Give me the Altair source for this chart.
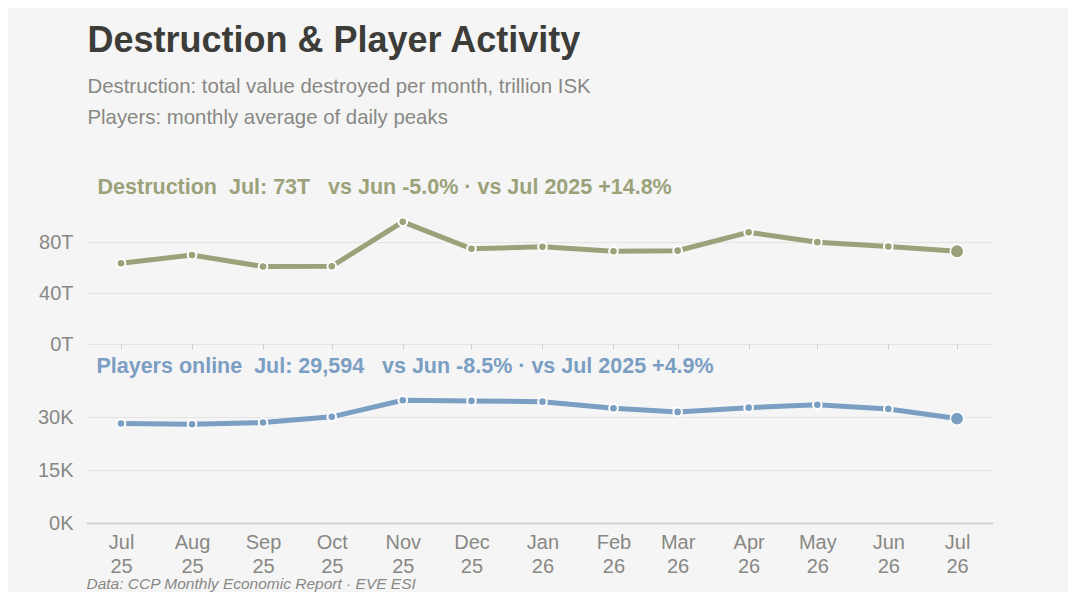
import altair as alt
import pandas as pd

months = ["2025-07-01", "2025-08-01", "2025-09-01", "2025-10-01", "2025-11-01", "2025-12-01",
          "2026-01-01", "2026-02-01", "2026-03-01", "2026-04-01", "2026-05-01", "2026-06-01", "2026-07-01"]
destruction = [63.6, 70.0, 61.0, 61.2, 96.2, 75.0, 76.6, 73.0, 73.5, 88.0, 80.2, 76.8, 73.0]
players = [28212, 28000, 28500, 30100, 34800, 34600, 34400, 32500, 31500, 32700, 33500, 32343, 29594]

title_text = "Destruction & Player Activity"
subtitle_lines = ["Destruction: total value destroyed per month, trillion ISK",
                  "Players: monthly average of daily peaks"]
destr_title = "Destruction\u00a0\u00a0Jul: 73T\u00a0\u00a0\u00a0vs Jun -5.0% \u00b7 vs Jul 2025 +14.8%"
players_title = "Players online\u00a0\u00a0Jul: 29,594\u00a0\u00a0\u00a0vs Jun -8.5% \u00b7 vs Jul 2025 +4.9%"
footer = "Data: CCP Monthly Economic Report \u00b7 EVE ESI"

GREEN = "#9ba27a"
BLUE = "#7b9ec3"
GRAY = "#888884"
FONT = "Liberation Sans"

t0 = pd.Timestamp("2025-07-01", tz="UTC") - pd.Timedelta(days=15.3)
t1 = pd.Timestamp("2026-07-01", tz="UTC") + pd.Timedelta(days=15.7)
xdomain = [int(t0.timestamp() * 1000), int(t1.timestamp() * 1000)]

df1 = pd.DataFrame({"date": months, "value": destruction})
df2 = pd.DataFrame({"date": months, "value": players})
df1["last"] = df1.index == len(df1) - 1
df2["last"] = df2.index == len(df2) - 1


def panel(df, color, ydomain, yvalues, ylabel_expr, title, bottom, toff):
    if bottom:
        xaxis = alt.Axis(
            tickCount={"interval": "month", "step": 1},
            labelExpr="[utcFormat(datum.value, '%b'), utcFormat(datum.value, '%y')]",
            labelFont=FONT, labelFontSize=20, labelColor=GRAY, labelLineHeight=24,
            labelPadding=9, ticks=False, grid=False, domain=True,
            domainColor="#d3d3ce", domainWidth=2,
            title=footer, titleFont=FONT, titleFontSize=15.5, titleFontStyle="italic",
            titleFontWeight="normal", titleColor=GRAY, titleAnchor="start",
            titleAlign="left", titleX=0, titleY=60, titleBaseline="middle",
            labelFlush=False, labelOverlap=False,
        )
    else:
        xaxis = alt.Axis(
            tickCount={"interval": "month", "step": 1},
            labels=False, ticks=True, tickColor="#cfcfcf", tickSize=5, tickWidth=1,
            grid=False, domain=False, title=None,
        )
    x = alt.X("date:T", scale=alt.Scale(type="utc", domain=xdomain), axis=xaxis)
    y = alt.Y("value:Q", scale=alt.Scale(domain=ydomain, nice=False, zero=True),
              axis=alt.Axis(values=yvalues, labelExpr=ylabel_expr, labelFont=FONT,
                            labelFontSize=20, labelColor=GRAY, labelPadding=13,
                            ticks=False, domain=False, grid=True, gridColor="#e4e4e2",
                            gridWidth=1, title=None))
    base = alt.Chart(df).encode(x=x, y=y)
    line = base.mark_line(color=color, strokeWidth=5)
    pts = base.transform_filter("!datum.last").mark_point(
        filled=True, color=color, size=75, stroke="white", strokeWidth=2, opacity=1)
    last = base.transform_filter("datum.last").mark_point(
        filled=True, color=color, size=180, stroke="white", strokeWidth=1.5, opacity=1)
    return alt.layer(line, pts, last).properties(
        width=907, height=127,
        title=alt.TitleParams(title, anchor="start", dx=59, font=FONT, fontSize=21.5,
                              fontWeight="bold", color=color, offset=toff),
    )


top = panel(df1, GREEN, [0, 100], [0, 40, 80], "datum.value + 'T'", destr_title, False, 13)
bot = panel(df2, BLUE, [0, 36000], [0, 15000, 30000],
            "format(datum.value / 1000, 'd') + 'K'", players_title, True, 13)

chart = alt.vconcat(top, bot, spacing=1).properties(
    title=alt.TitleParams(title_text, subtitle=subtitle_lines, anchor="start", dx=50,
                          font=FONT, fontSize=36, fontWeight="bold", color="#3c3c38",
                          subtitleFont=FONT, subtitleFontSize=20.4, subtitleColor=GRAY,
                          subtitleLineHeight=31, subtitlePadding=17, offset=48),
    padding={"left": 29, "top": 14, "right": 75, "bottom": 0},
    background="#f5f5f5",
).configure_view(stroke=None)

chart.save("out.html", embed_options={"renderer": "svg", "actions": False})
